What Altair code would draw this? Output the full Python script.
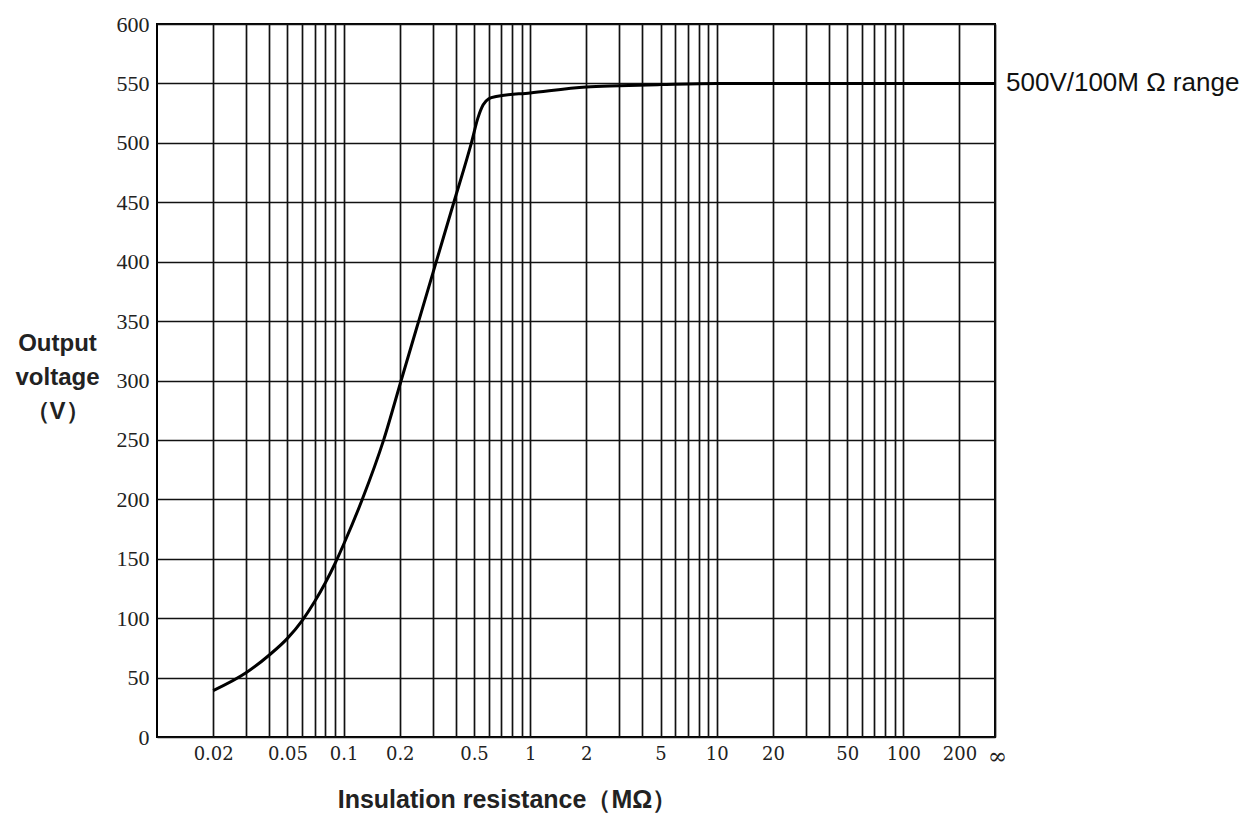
import altair as alt
import pandas as pd

# Output voltage of the 500V/100MΩ range versus insulation resistance
resistance_mohm = [0.02, 0.03, 0.04, 0.05, 0.06, 0.07, 0.08, 0.09, 0.1,
                   0.126, 0.164, 0.2035, 0.2527, 0.3139, 0.39, 0.4842,
                   0.525, 0.56, 0.6, 0.657, 1, 2, 3, 5, 10, 20, 50, 100, 200, 310]
voltage_v = [39, 54, 69, 83, 98, 114, 130, 146, 162,
             200, 250, 300, 350, 400, 450, 500,
             521, 532, 537, 539, 542, 547, 548, 549, 550, 550, 550, 550, 550, 550]

# Log-paper grid lines and the labelled subset
grid_mohm = [0.02, 0.03, 0.04, 0.05, 0.06, 0.07, 0.08, 0.09,
             0.1, 0.2, 0.3, 0.4, 0.5, 0.6, 0.7, 0.8, 0.9,
             1, 2, 3, 4, 5, 6, 7, 8, 9,
             10, 20, 30, 40, 50, 60, 70, 80, 90,
             100, 200]
labelled_mohm = [0.02, 0.05, 0.1, 0.2, 0.5, 1, 2, 5, 10, 20, 50, 100, 200]
infinity_mohm = 310
voltage_ticks = [0, 50, 100, 150, 200, 250, 300, 350, 400, 450, 500, 550, 600]

range_label = ["500V/100M Ω  range"]
range_label_at = [(infinity_mohm, 550)]

curve = pd.DataFrame({"R": resistance_mohm, "V": voltage_v})
note = pd.DataFrame({"R": [p[0] for p in range_label_at],
                     "V": [p[1] for p in range_label_at],
                     "label": range_label})

label_expr = (
    f"datum.value == {infinity_mohm} ? '∞' : "
    f"(indexof({labelled_mohm}, datum.value) >= 0 ? toString(datum.value) : '')"
)

x_enc = alt.X(
    "R:Q",
    scale=alt.Scale(type="log", domain=[0.01, infinity_mohm], nice=False),
    axis=alt.Axis(
        values=grid_mohm + [infinity_mohm],
        labelExpr=label_expr,
        grid=True, gridColor="#111", gridWidth=1.7,
        ticks=False, domain=False,
        labelFont="DejaVu Serif",
        labelFontSize={"condition": {"test": f"datum.value == {infinity_mohm}",
                                     "value": 23},
                       "value": 18},
        labelOffset={"condition": {"test": f"datum.value == {infinity_mohm}",
                                   "value": 2},
                     "value": 0},
        labelColor="#222",
        labelPadding=8, labelOverlap=False, labelFlush=False,
        title="Insulation resistance（MΩ）",
        titleFont="Liberation Sans", titleFontSize=25, titleFontWeight="bold",
        titleColor="#222", titleX=350, titleY=62,
        titleAlign="center", titleBaseline="middle",
    ),
)
y_enc = alt.Y(
    "V:Q",
    scale=alt.Scale(domain=[0, 600], nice=False),
    axis=alt.Axis(
        values=voltage_ticks,
        grid=True, gridColor="#111", gridWidth=1.7,
        ticks=False, domain=False,
        labelFont="Liberation Serif", labelFontSize=22, labelColor="#222",
        labelPadding=8,
        title=["Output", "voltage", "（V）"],
        titleFont="Liberation Sans", titleFontSize=24, titleFontWeight="bold",
        titleColor="#222", titleAngle=0, titleX=-100, titleY=319,
        titleAlign="center", titleBaseline="middle", titleLineHeight=34,
    ),
)

line = alt.Chart(curve).mark_line(
    color="black", strokeWidth=3, interpolate="monotone"
).encode(x=x_enc, y=y_enc)

text = alt.Chart(note).mark_text(
    align="left", baseline="middle", dx=11,
    font="Liberation Sans", fontSize=26, color="#111"
).encode(x="R:Q", y="V:Q", text="label:N")

chart = alt.layer(line, text).properties(
    width=838, height=713,
    padding={"left": 157, "top": 24, "right": 264, "bottom": 80},
    autosize=alt.AutoSizeParams(type="none"),
).configure_view(stroke="black", strokeWidth=2)

chart.save("out.html", embed_options={"renderer": "svg", "actions": False})
